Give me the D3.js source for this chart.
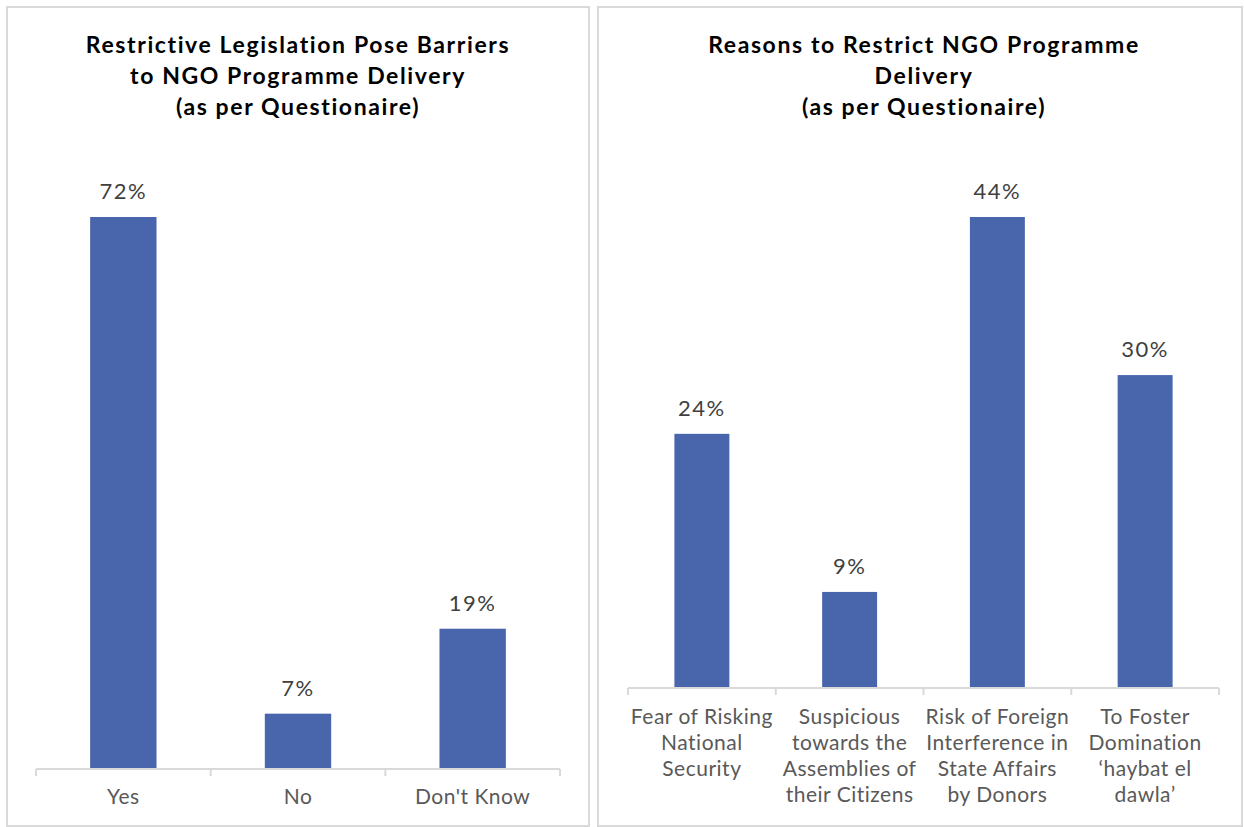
<!DOCTYPE html>
<html>
<head>
<meta charset="utf-8">
<script src="https://cdn.jsdelivr.net/npm/d3@7"></script>
<style>
  body { margin: 0; background: #fff; }
  svg { display: block; }
</style>
</head>
<body>
<svg width="1244" height="827"></svg>
<script>
// left chart data
var leftTitle = ["Restrictive Legislation Pose Barriers", "to NGO Programme Delivery", "(as per Questionaire)"];
var leftCats = [["Yes"], ["No"], ["Don't Know"]];
var leftValues = [0.72, 0.071, 0.182];
var leftLabels = ["72%", "7%", "19%"];

// right chart data
var rightTitle = ["Reasons to Restrict NGO Programme", "Delivery", "(as per Questionaire)"];
var rightCats = [
    ["Fear of Risking", "National", "Security"],
    ["Suspicious", "towards the", "Assemblies of", "their Citizens"],
    ["Risk of Foreign", "Interference in", "State Affairs", "by Donors"],
    ["To Foster", "Domination", "\u2018haybat el", "dawla\u2019"]
];
var rightValues = [0.237, 0.089, 0.44, 0.292];
var rightLabels = ["24%", "9%", "44%", "30%"];

var svg = d3.select("svg");
var FONT = "Lato, 'Open Sans', sans-serif";
var barColor = "#4966ad";

//==================================================
// one panel

var drawPanel = function(opt) {
    var g = svg.append("g");

    // panel frame
    g.append("rect")
        .attr("x", opt.box[0]).attr("y", opt.box[1])
        .attr("width", opt.box[2]).attr("height", opt.box[3])
        .attr("fill", "#fff")
        .attr("stroke", "#d9d9d9")
        .attr("stroke-width", 2);

    // title
    g.append("text")
        .attr("x", opt.titleX)
        .attr("y", 53)
        .attr("text-anchor", "middle")
        .style("font-family", FONT)
        .style("font-weight", "bold")
        .style("font-size", "23px")
        .style("letter-spacing", "1.6px")
        .style("fill", "#000")
        .selectAll("tspan")
        .data(opt.title)
        .enter().append("tspan")
        .attr("x", opt.titleX)
        .attr("dy", function(d, i) { return i == 0 ? 0 : 31; })
        .text(function(d) { return d; });

    var x = d3.scaleBand()
        .domain(d3.range(opt.values.length))
        .range(opt.xRange)
        .paddingInner(opt.pad)
        .paddingOuter(opt.pad / 2);

    var y = d3.scaleLinear()
        .domain([0, d3.max(opt.values)])
        .range([opt.base, 217]);

    // bars
    g.selectAll(".bar")
        .data(opt.values)
        .enter().append("rect")
        .attr("class", "bar")
        .attr("x", function(d, i) { return x(i); })
        .attr("width", x.bandwidth())
        .attr("y", function(d) { return y(d); })
        .attr("height", function(d) { return y(0) - y(d); })
        .attr("fill", barColor);

    // data labels
    g.selectAll(".lbl")
        .data(opt.values)
        .enter().append("text")
        .attr("class", "lbl")
        .attr("x", function(d, i) { return x(i) + x.bandwidth() / 2; })
        .attr("y", function(d) { return y(d) - 18; })
        .attr("text-anchor", "middle")
        .style("font-family", FONT)
        .style("font-size", "22px")
        .style("letter-spacing", "1.5px")
        .style("fill", "#404040")
        .text(function(d, i) { return opt.labels[i]; });

    // category axis
    var axisY = opt.base + 1;
    var ax = g.append("g").attr("transform", "translate(0," + axisY + ")");
    ax.append("line")
        .attr("x1", opt.xRange[0]).attr("x2", opt.xRange[1])
        .attr("stroke", "#d9d9d9").attr("stroke-width", 2);
    var step = x.step();
    ax.selectAll(".tick")
        .data(d3.range(opt.values.length + 1))
        .enter().append("line")
        .attr("x1", function(i) { return opt.xRange[0] + i * step; })
        .attr("x2", function(i) { return opt.xRange[0] + i * step; })
        .attr("y1", 0).attr("y2", 7)
        .attr("stroke", "#d9d9d9").attr("stroke-width", 2);

    ax.selectAll(".cat")
        .data(opt.cats)
        .enter().append("text")
        .attr("class", "cat")
        .attr("text-anchor", "middle")
        .attr("y", opt.catY)
        .style("font-family", FONT)
        .style("font-size", "21px")
        .style("letter-spacing", "0.5px")
        .style("fill", "#595959")
        .each(function(lines, i) {
            var cx = x(i) + x.bandwidth() / 2;
            d3.select(this).selectAll("tspan")
                .data(lines)
                .enter().append("tspan")
                .attr("x", cx)
                .attr("dy", function(d, j) { return j == 0 ? 0 : 26; })
                .text(function(d) { return d; });
        });
};

drawPanel({
    box: [7, 7, 582, 819],
    title: leftTitle, titleX: 298,
    values: leftValues, labels: leftLabels, cats: leftCats,
    xRange: [36, 560], pad: 0.62, base: 768, catY: 35
});

drawPanel({
    box: [598, 7, 644, 819],
    title: rightTitle, titleX: 924,
    values: rightValues, labels: rightLabels, cats: rightCats,
    xRange: [628, 1219], pad: 0.628, base: 687, catY: 36
});
</script>
</body>
</html>
